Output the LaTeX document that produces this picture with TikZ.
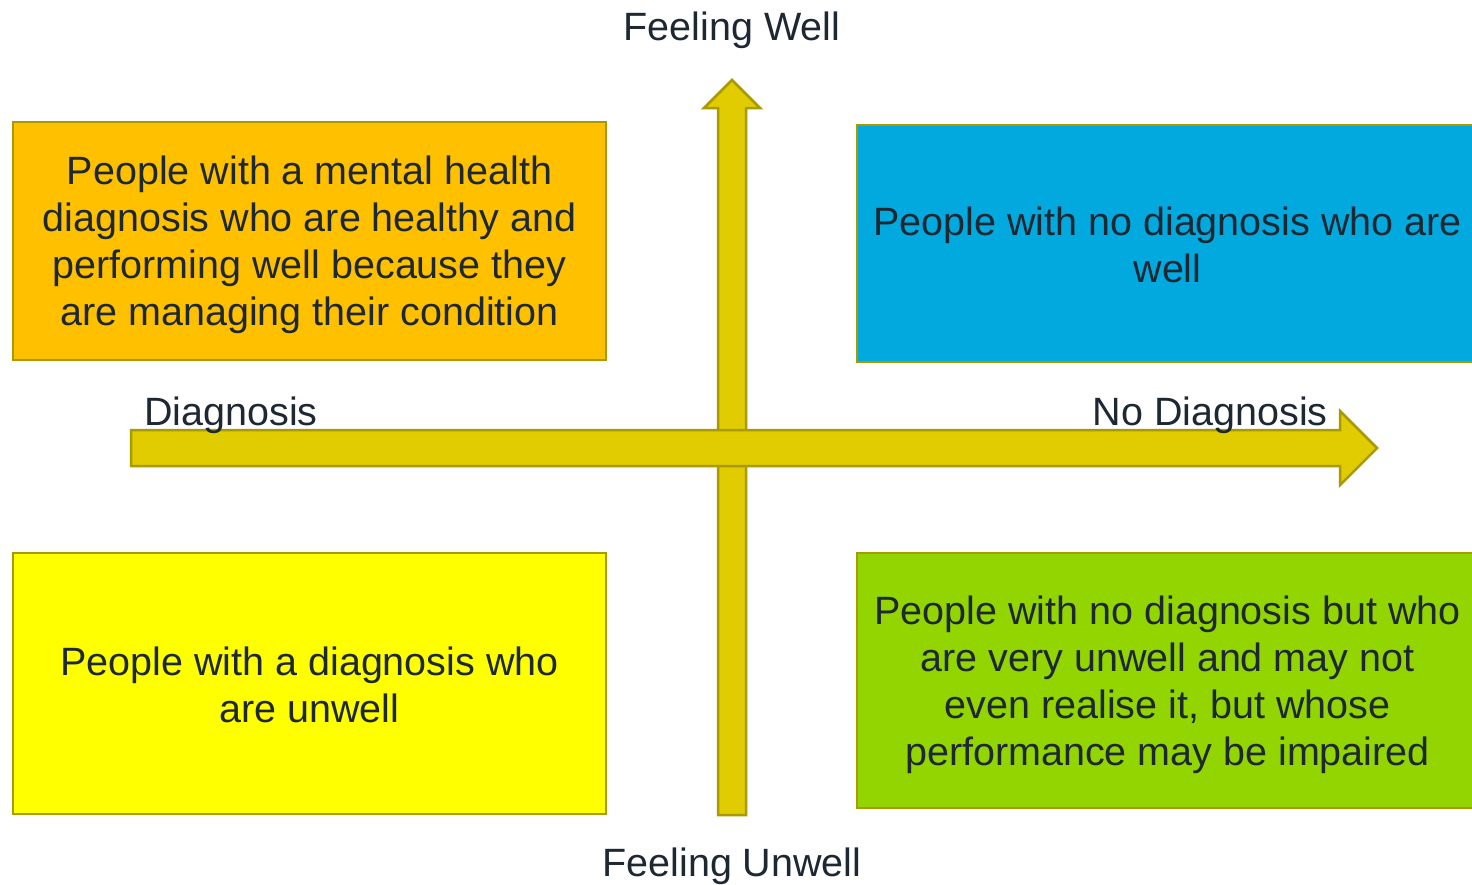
\documentclass[tikz,border=0pt]{standalone}
\usepackage{fontspec}
\setmainfont{Liberation Sans}
\usepackage{xcolor}
\usepackage{tikz}

\definecolor{txt}{HTML}{1E2833}
\definecolor{edge}{HTML}{A89A00}
\definecolor{axisfill}{HTML}{E0CC00}
\definecolor{orangebox}{HTML}{FFC000}
\definecolor{bluebox}{HTML}{02A9DF}
\definecolor{yellowbox}{HTML}{FFFF00}
\definecolor{greenbox}{HTML}{92D500}

\tikzset{
  quad/.style={draw=edge, line width=2pt},
  quadtext/.style={text=txt, align=center, inner sep=0pt, font=\fontsize{39.5}{47}\selectfont},
  axis/.style={draw=edge, fill=axisfill, line width=2.5pt, line join=miter},
  lbl/.style={text=txt, font=\fontsize{39.5}{47}\selectfont, inner sep=0pt}
}

\begin{document}
\begin{tikzpicture}[x=1pt,y=-1pt]
\useasboundingbox (0,0) rectangle (1472,884);
\draw[quad, fill=orangebox] (13,122) rectangle (606,360);
\draw[quad, fill=bluebox] (857,125) rectangle (1480,362);
\draw[quad, fill=yellowbox] (13,553) rectangle (606,814);
\draw[quad, fill=greenbox] (857,553) rectangle (1480,808);
\node[quadtext] (wellDx) at (309.5,245) {People with a mental health\\diagnosis who are healthy and\\performing well because they\\are managing their condition};
\node[quadtext] (wellNoDx) at (1167.5,245) {People with no diagnosis who are\\well};
\node[quadtext] (unwellDx) at (309.5,685) {People with a diagnosis who\\are unwell};
\node[quadtext] (unwellNoDx) at (1167.5,685) {People with no diagnosis but who\\are very unwell and may not\\even realise it, but whose\\performance may be impaired};
\draw[axis] (718,815) -- (746,815) -- (746,108) -- (760,108) -- (732,80) -- (704,108) -- (718,108) -- cycle;
\draw[axis] (131,430) -- (1340,430) -- (1340,411) -- (1377,448) -- (1340,485) -- (1340,466) -- (131,466) -- cycle;
\node[lbl, anchor=base] (well) at (732,40) {Feeling Well};
\node[lbl, anchor=base] (unwell) at (732,876) {Feeling Unwell};
\node[lbl, anchor=base west] (dx) at (144,425) {Diagnosis};
\node[lbl, anchor=base east, fill=white, inner xsep=8pt, inner ysep=3pt, text depth=0pt] (noDx) at (1336,425) {No Diagnosis};
\end{tikzpicture}
\end{document}
